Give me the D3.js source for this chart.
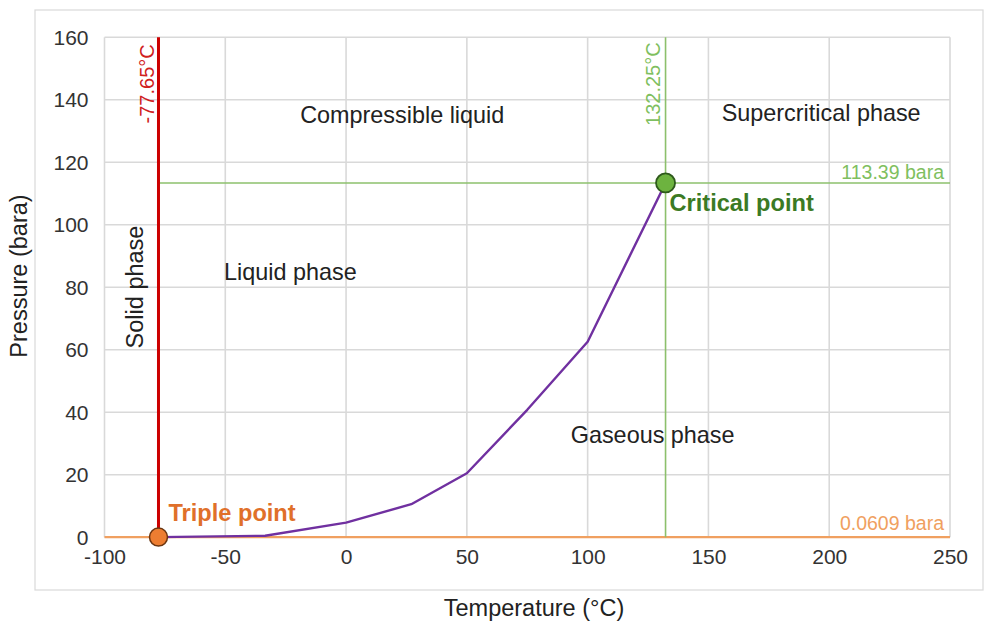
<!DOCTYPE html>
<html>
<head>
<meta charset="utf-8">
<script src="https://cdn.jsdelivr.net/npm/d3@7"></script>
<style>
  html, body { margin: 0; padding: 0; background: #fff; }
  svg text { font-family: "Liberation Sans", Arial, sans-serif; }
</style>
</head>
<body>
<svg id="chart" width="985" height="624"></svg>
<script>
// ---- Data ----
const temperatures = [-77.65, -33.5, 0, 27, 50, 75, 100, 132.25];
const pressures = [0.0609, 0.5, 4.7, 10.6, 20.5, 40.8, 62.6, 113.39];
const triplePoint = { t: -77.65, p: 0.0609 };
const criticalPoint = { t: 132.25, p: 113.39 };
const xTicks = [-100, -50, 0, 50, 100, 150, 200, 250];
const yTicks = [0, 20, 40, 60, 80, 100, 120, 140, 160];
const regionLabels = [
  { text: "Compressible liquid", t: -19, p: 132.6 },
  { text: "Supercritical phase", t: 155.5, p: 133.3 },
  { text: "Liquid phase", t: -50.5, p: 82.3 },
  { text: "Gaseous phase", t: 93, p: 30.1 }
];

const svg = d3.select("#chart");
const x = d3.scaleLinear().domain([-100, 250]).range([104.5, 950]);
const y = d3.scaleLinear().domain([0, 160]).range([537.3, 37.3]);

// outer frame
svg.append("rect").attr("x", 35).attr("y", 10).attr("width", 948).attr("height", 580)
  .attr("fill", "none").attr("stroke", "#d9d9d9").attr("stroke-width", 1.2);

// gridlines
svg.append("g").selectAll("line").data(xTicks).join("line")
  .attr("x1", d => x(d)).attr("x2", d => x(d))
  .attr("y1", y(160)).attr("y2", y(0))
  .attr("stroke", "#d9d9d9").attr("stroke-width", 1.6);
svg.append("g").selectAll("line").data(yTicks).join("line")
  .attr("x1", x(-100)).attr("x2", x(250))
  .attr("y1", d => y(d)).attr("y2", d => y(d))
  .attr("stroke", "#d9d9d9").attr("stroke-width", 1.6);

// axes (labels only)
const xAxis = svg.append("g").attr("transform", `translate(0,${y(0) + 12})`)
  .call(d3.axisBottom(x).tickValues(xTicks).tickFormat(d => String(d)).tickSize(0).tickPadding(0));
xAxis.select(".domain").remove();
xAxis.selectAll("text").attr("font-size", 21).attr("fill", "#333")
  .attr("font-family", "Liberation Sans, Arial, sans-serif").attr("dy", "0.71em");

const yAxis = svg.append("g").attr("transform", `translate(${x(-100) - 16},0)`)
  .call(d3.axisLeft(y).tickValues(yTicks).tickFormat(d => String(d)).tickSize(0).tickPadding(0));
yAxis.select(".domain").remove();
yAxis.selectAll("text").attr("font-size", 21).attr("fill", "#333")
  .attr("font-family", "Liberation Sans, Arial, sans-serif");

// triple point horizontal line (orange)
svg.append("line").attr("x1", x(-100)).attr("x2", x(250))
  .attr("y1", y(triplePoint.p)).attr("y2", y(triplePoint.p))
  .attr("stroke", "#f0a060").attr("stroke-width", 2.2);

// critical lines (green)
svg.append("line").attr("x1", x(triplePoint.t)).attr("x2", x(250))
  .attr("y1", y(criticalPoint.p)).attr("y2", y(criticalPoint.p))
  .attr("stroke", "#8cc06c").attr("stroke-width", 1.6);
svg.append("line").attr("x1", x(criticalPoint.t)).attr("x2", x(criticalPoint.t))
  .attr("y1", y(160)).attr("y2", y(0))
  .attr("stroke", "#8cc06c").attr("stroke-width", 1.6);

// solid boundary (red)
svg.append("line").attr("x1", x(triplePoint.t)).attr("x2", x(triplePoint.t))
  .attr("y1", y(160)).attr("y2", y(triplePoint.p))
  .attr("stroke", "#cc0000").attr("stroke-width", 3);

// vapor pressure curve
const pts = temperatures.map((t, i) => [t, pressures[i]]);
svg.append("path").datum(pts)
  .attr("d", d3.line().x(d => x(d[0])).y(d => y(d[1])))
  .attr("fill", "none").attr("stroke", "#7030a0").attr("stroke-width", 2.4)
  .attr("stroke-linejoin", "round");

// markers
svg.append("circle").attr("cx", x(triplePoint.t)).attr("cy", y(triplePoint.p)).attr("r", 9)
  .attr("fill", "#ed7d31").attr("stroke", "#6b3510").attr("stroke-width", 1.5);
svg.append("circle").attr("cx", x(criticalPoint.t)).attr("cy", y(criticalPoint.p)).attr("r", 9.5)
  .attr("fill", "#6db33f").attr("stroke", "#2e5a1c").attr("stroke-width", 1.8);

// region labels
svg.append("g").selectAll("text").data(regionLabels).join("text")
  .attr("x", d => x(d.t)).attr("y", d => y(d.p))
  .attr("font-size", 23.4).attr("fill", "#222").text(d => d.text);

// rotated labels
svg.append("text").attr("transform", `translate(${x(triplePoint.t) - 4},${y(160) + 7}) rotate(-90)`)
  .attr("text-anchor", "end").attr("font-size", 20).attr("fill", "#d02020").text("-77.65°C");
svg.append("text").attr("transform", `translate(${x(criticalPoint.t) - 6},${y(160) + 5}) rotate(-90)`)
  .attr("text-anchor", "end").attr("font-size", 20).attr("fill", "#7fbf60").text("132.25°C");
svg.append("text").attr("transform", `translate(143,287) rotate(-90)`)
  .attr("text-anchor", "middle").attr("font-size", 23.5).attr("fill", "#222").text("Solid phase");

// value labels
svg.append("text").attr("x", x(250) - 6).attr("y", y(criticalPoint.p) - 4)
  .attr("text-anchor", "end").attr("font-size", 19.5).attr("fill", "#7fbf60").text("113.39 bara");
svg.append("text").attr("x", x(250) - 6).attr("y", y(0) - 7)
  .attr("text-anchor", "end").attr("font-size", 19.5).attr("fill", "#f0a060").text("0.0609 bara");

// point labels
svg.append("text").attr("x", x(criticalPoint.t) + 4).attr("y", y(criticalPoint.p) + 28)
  .attr("font-size", 23.6).attr("font-weight", "bold").attr("fill", "#3b7a24").text("Critical point");
svg.append("text").attr("x", x(triplePoint.t) + 10).attr("y", y(0) - 16)
  .attr("font-size", 23.6).attr("font-weight", "bold").attr("fill", "#e0702a").text("Triple point");

// axis titles
svg.append("text").attr("x", 534).attr("y", 616).attr("text-anchor", "middle")
  .attr("font-size", 23.5).attr("fill", "#222").text("Temperature (°C)");
svg.append("text").attr("transform", "translate(27,276) rotate(-90)").attr("text-anchor", "middle")
  .attr("font-size", 23.5).attr("fill", "#222").text("Pressure (bara)");
</script>
</body>
</html>
